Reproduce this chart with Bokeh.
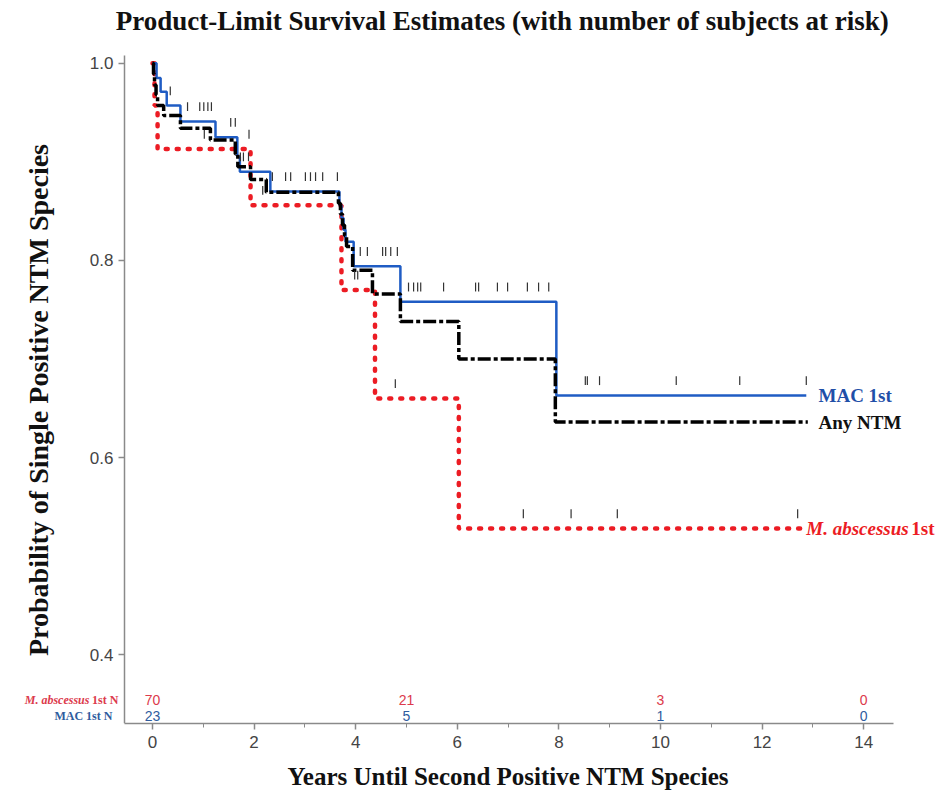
import numpy as np
from bokeh.plotting import figure
from bokeh.models import FixedTicker, Label, Range1d, ColumnDataSource
from bokeh.core.properties import value
from bokeh.embed import file_html
from bokeh.resources import INLINE

# ---- data ----
mac_t = [0, 0.08, 0.16, 0.28, 0.55, 1.24, 1.67, 1.72, 2.32, 3.68, 3.72, 3.76, 3.80, 3.96, 4.88, 7.95]
mac_s = [1.0, 0.985, 0.971, 0.957, 0.941, 0.925, 0.905, 0.89, 0.87, 0.856, 0.843, 0.831, 0.819, 0.794, 0.758, 0.663]
mac_end = 12.87
mac_cens = [0.35, 0.69, 0.93, 1.01, 1.09, 1.16, 1.54, 1.63, 1.73, 1.79, 1.89,
            2.36, 2.62, 2.72, 3.01, 3.11, 3.21, 3.35, 3.64,
            4.09, 4.23, 4.53, 4.59, 4.69, 4.82,
            5.04, 5.14, 5.22, 5.28, 5.73, 6.36, 6.42, 6.79, 6.99, 7.38, 7.60, 7.80,
            8.52, 8.56, 8.80, 10.31, 11.56, 12.87]

any_t = [0, 0.02, 0.04, 0.07, 0.10, 0.22, 0.55, 1.14, 1.63, 1.68, 1.93, 2.24, 3.66, 3.70, 3.74, 3.78, 3.82, 3.94, 4.33, 4.88, 6.03, 7.93]
any_s = [1.0, 0.989, 0.978, 0.968, 0.957, 0.947, 0.934, 0.922, 0.908, 0.895, 0.882, 0.869, 0.858, 0.847, 0.836, 0.825, 0.814, 0.79, 0.766, 0.738, 0.70, 0.636]
any_end = 12.9

abs_t = [0, 0.04, 0.1, 1.93, 3.72, 4.38, 6.03]
abs_s = [1.0, 0.957, 0.913, 0.856, 0.77, 0.66, 0.528]
abs_end = 12.75
abs_cens = [1.02, 1.90, 2.17, 3.98, 4.04, 4.78, 7.30, 8.24, 9.15, 12.70]

risk_times = [0, 5, 10, 14]
risk_abs = [70, 21, 3, 0]
risk_mac = [23, 5, 1, 0]

x_ticks = [0, 2, 4, 6, 8, 10, 12, 14]
x_minor = [1, 3, 5, 7, 9, 11, 13]
y_ticks = [0.4, 0.6, 0.8, 1.0]

TITLE = "Product-Limit Survival Estimates (with number of subjects at risk)"
X_AXIS_SPAN = (-0.551, 14.587)
Y_AXIS_SPAN = (0.3303, 1.008)
ROW_ABS_Y = 0.3545
ROW_MAC_Y = 0.3384

RED = "#ec1c24"
BLUE = "#1f5cc4"
RED_T = "#dc3a4c"
BLUE_T = "#2f5c9e"
NBSP = "\u00a0"

p = figure(width=940, height=792, output_backend="svg", toolbar_location=None,
           x_range=Range1d(-2.992, 15.512), y_range=Range1d(Y_AXIS_SPAN[0], 1.0636),
           min_border_left=0, min_border_right=0, min_border_top=0, min_border_bottom=66)
p.grid.visible = False
p.outline_line_color = None

for ax in (p.xaxis[0], p.yaxis[0]):
    ax.axis_line_color = "#8a8a8a"
    ax.axis_line_width = 1.5
    ax.major_tick_line_color = "#8a8a8a"
    ax.major_tick_line_width = 1.5
    ax.minor_tick_line_color = "#8a8a8a"
    ax.major_tick_out = 6
    ax.major_tick_in = 0
    ax.minor_tick_out = 4
    ax.minor_tick_in = 0
    ax.major_label_text_font = "Liberation Sans"
    ax.major_label_text_font_size = "17px"
    ax.major_label_text_color = "#444444"
    ax.axis_label_text_font = "Liberation Serif"
    ax.axis_label_text_font_style = "bold"
    ax.axis_label_text_color = "#111111"

p.xaxis.ticker = FixedTicker(ticks=x_ticks, minor_ticks=x_minor)
p.xaxis.bounds = X_AXIS_SPAN
p.yaxis.ticker = FixedTicker(ticks=y_ticks)
p.yaxis.bounds = Y_AXIS_SPAN
p.yaxis.fixed_location = X_AXIS_SPAN[0]
p.yaxis.major_label_overrides = {v: f"{v:.1f}" for v in y_ticks}
# non-breaking spaces shift the centred labels to sit along the axis spans
p.xaxis.axis_label = NBSP * 12 + "Years Until Second Positive NTM Species"
p.yaxis.axis_label = "Probability of Single Positive NTM Species" + NBSP * 3
p.xaxis.axis_label_text_font_size = "25px"
p.yaxis.axis_label_text_font_size = "28px"
p.xaxis.major_label_standoff = 6
p.xaxis.axis_label_standoff = 12
p.yaxis.axis_label_standoff = 33

# title, drawn inside the (extended) frame above the axis span
p.add_layout(Label(x=6.89, y=1.0424, text=TITLE, text_align="center", text_baseline="middle",
                   text_font="Liberation Serif", text_font_style="bold", text_font_size="27px",
                   text_color="#111111"))


def step_xy(t, s, end):
    return list(t) + [end], list(s) + [s[-1]]


def surv_at(t, s, c):
    idx = np.searchsorted(np.array(t), np.array(c), side="right") - 1
    return np.array(s)[idx]


ax_, ay_ = step_xy(abs_t, abs_s, abs_end)
p.step(ax_, ay_, mode="after", line_color=RED, line_width=4.5, line_dash="2 9", line_cap="round")
bx_, by_ = step_xy(mac_t, mac_s, mac_end)
p.step(bx_, by_, mode="after", line_color=BLUE, line_width=2.5)
kx_, ky_ = step_xy(any_t, any_s, any_end)
p.step(kx_, ky_, mode="after", line_color="#000000", line_width=3.5, line_dash="13 3 4 3")

# censor marks
for cens, t, s in ((mac_cens, mac_t, mac_s), (abs_cens, abs_t, abs_s)):
    sv = surv_at(t, s, cens)
    p.segment(x0=cens, y0=sv + 0.0105, x1=cens, y1=sv + 0.0195,
              line_color="#333333", line_width=1.2)

# risk table numbers
src_r = ColumnDataSource(dict(x=risk_times, y=[ROW_ABS_Y] * 4, t=[str(v) for v in risk_abs]))
src_b = ColumnDataSource(dict(x=risk_times, y=[ROW_MAC_Y] * 4, t=[str(v) for v in risk_mac]))
p.text(x="x", y="y", text="t", source=src_r, text_align="center", text_baseline="middle",
       text_font=value("Liberation Sans"), text_font_size="14px", text_color=RED_T)
p.text(x="x", y="y", text="t", source=src_b, text_align="center", text_baseline="middle",
       text_font=value("Liberation Sans"), text_font_size="14px", text_color=BLUE_T)

# risk table row labels
row_x = X_AXIS_SPAN[0] - 0.12
p.add_layout(Label(x=row_x, y=ROW_ABS_Y, text="1st N", text_align="right", text_baseline="middle",
                   text_font="Liberation Serif", text_font_style="bold", text_font_size="12px",
                   text_color=RED_T))
p.add_layout(Label(x=row_x, y=ROW_ABS_Y, x_offset=-29, text="M. abscessus", text_align="right",
                   text_baseline="middle", text_font="Liberation Serif", text_font_style="bold italic",
                   text_font_size="12px", text_color=RED_T))
p.add_layout(Label(x=row_x, y=ROW_MAC_Y, text="MAC  1st  N", text_align="right", text_baseline="middle",
                   text_font="Liberation Serif", text_font_style="bold", text_font_size="12px",
                   text_color=BLUE_T))

# curve labels
lx = mac_end + 0.24
p.add_layout(Label(x=lx, y=mac_s[-1], text="MAC 1st", text_baseline="middle",
                   text_font="Liberation Serif", text_font_style="bold", text_font_size="19px",
                   text_color="#1f4fa8"))
p.add_layout(Label(x=lx, y=any_s[-1], text="Any NTM", text_baseline="middle",
                   text_font="Liberation Serif", text_font_style="bold", text_font_size="19px",
                   text_color="#111111"))
p.add_layout(Label(x=mac_end, y=abs_s[-1], text="M. abscessus", text_baseline="middle",
                   text_font="Liberation Serif", text_font_style="bold italic", text_font_size="19px",
                   text_color=RED))
p.add_layout(Label(x=mac_end, y=abs_s[-1], x_offset=105, text="1st", text_baseline="middle",
                   text_font="Liberation Serif", text_font_style="bold", text_font_size="19px",
                   text_color=RED))

open("out.html", "w").write(file_html(p, INLINE))
